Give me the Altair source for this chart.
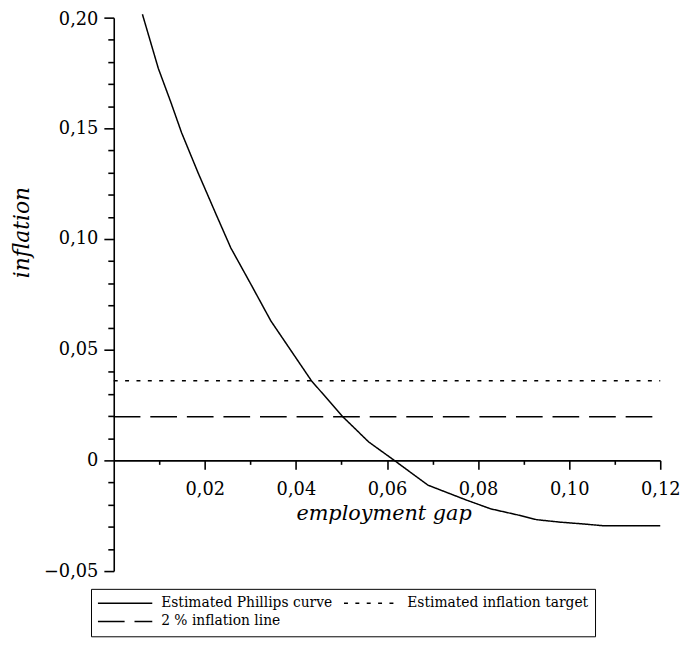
import altair as alt
import pandas as pd

# Estimated Phillips curve (employment gap, inflation)
curve_x = [0.0063, 0.0098, 0.0125, 0.0149, 0.0185, 0.0225, 0.0257, 0.0300, 0.0345,
           0.0434, 0.0503, 0.0560, 0.0616, 0.0690, 0.0774, 0.0828, 0.0886, 0.0929,
           0.0980, 0.1024, 0.1074, 0.1200]
curve_y = [0.2015, 0.177, 0.162, 0.148, 0.130, 0.111, 0.096, 0.080, 0.063,
           0.036, 0.0197, 0.0083, 0.0, -0.0112, -0.0179, -0.0219, -0.0246, -0.0268,
           -0.0279, -0.0286, -0.0295, -0.0295]

# Horizontal reference lines
hline_x = [0.0, 0.12]
target_level = 0.036
two_pct_level = 0.0197

series_names = ["Estimated Phillips curve", "Estimated inflation target", "2 % inflation line"]

x_tick_values = [0.01, 0.02, 0.03, 0.04, 0.05, 0.06, 0.07, 0.08, 0.09, 0.10, 0.11, 0.12]
y_tick_values = [-0.05, -0.04, -0.03, -0.02, -0.01, 0.0, 0.01, 0.02, 0.03, 0.04, 0.05,
                 0.06, 0.07, 0.08, 0.09, 0.10, 0.11, 0.12, 0.13, 0.14, 0.15, 0.16,
                 0.17, 0.18, 0.19, 0.20]

rows = []
for i, (x, y) in enumerate(zip(curve_x, curve_y)):
    rows.append({"series": series_names[0], "x": x, "y": y, "i": i})
for i, x in enumerate(hline_x):
    rows.append({"series": series_names[1], "x": x, "y": target_level, "i": i})
for i, x in enumerate(hline_x):
    rows.append({"series": series_names[2], "x": x, "y": two_pct_level, "i": i})
df = pd.DataFrame(rows)

FONT = "DejaVu Serif"
W, H = 553, 560
x0_offset = -round(H * 0.05 / 0.25)

label_fmt = "replace(format(datum.value, '.2f'), '.', ',')"

x_axis = alt.Axis(
    orient="bottom",
    offset=x0_offset,
    values=x_tick_values,
    labelExpr=f"round(datum.value*100) % 2 == 0 ? {label_fmt} : ''",
    tickSize={"condition": {"test": "round(datum.value*100) % 2 == 0", "value": 9}, "value": 4},
    labelPadding=21,
    labelFont=FONT, labelFontSize=18, labelColor="black",
    labelBaseline="middle",
    labelFlush=False, labelOverlap=False,
    domainColor="black", domainWidth=1.6,
    tickColor="black", tickWidth=1.6,
    grid=False,
    title="employment gap",
    titleFont=FONT, titleFontSize=21, titleFontStyle="italic", titleFontWeight="normal",
    titleColor="black",
    titleX=273, titleY=60, titleAlign="center", titleBaseline="alphabetic",
)

y_axis = alt.Axis(
    orient="left",
    values=y_tick_values,
    labelExpr=f"round(datum.value*100) % 5 == 0 ? (abs(datum.value) < 1e-9 ? '0' : {label_fmt}) : ''",
    tickSize={"condition": {"test": "round(datum.value*100) % 5 == 0", "value": 10}, "value": 6},
    labelOffset={"condition": {"test": "datum.value > 0.195", "value": 2}, "value": 0},
    labelPadding=6,
    labelFont=FONT, labelFontSize=18, labelColor="black",
    labelFlush=False, labelOverlap=False,
    domainColor="black", domainWidth=1.6,
    tickColor="black", tickWidth=1.6,
    grid=False,
    title="inflation",
    titleFont=FONT, titleFontSize=22, titleFontStyle="italic", titleFontWeight="normal",
    titleColor="black",
    titleX=-93, titleY=217, titleAngle=-90, titleAlign="center", titleBaseline="middle",
)

legend = alt.Legend(
    orient="none", legendX=-23, legendY=578,
    title=None, columns=2, direction="horizontal",
    symbolType="stroke", symbolSize=3025, symbolStrokeWidth=1.5,
    symbolStrokeColor="black", clipHeight=17,
    labelFont=FONT, labelFontSize=14, labelColor="black", labelLimit=400,
    labelOffset=8, columnPadding=10, rowPadding=1.5, padding=6,
    strokeColor="black", fillColor="white",
)

chart = alt.Chart(df).mark_line(color="black", strokeWidth=1.5, clip=False).encode(
    x=alt.X("x:Q", scale=alt.Scale(domain=[0, 0.12], nice=False, zero=False), axis=x_axis),
    y=alt.Y("y:Q", scale=alt.Scale(domain=[-0.05, 0.20], nice=False, zero=False), axis=y_axis),
    strokeDash=alt.StrokeDash(
        "series:N",
        scale=alt.Scale(domain=series_names, range=[[1, 0], [4, 7.5], [27, 10]]),
        legend=legend,
    ),
    detail="series:N",
    order="i:Q",
).properties(
    width=W, height=H,
    autosize=alt.AutoSizeParams(type="none"),
    padding={"left": 107, "top": 6, "right": 21, "bottom": 67},
    background="white",
).configure_view(stroke=None)

chart.save("out.html", embed_options={"renderer": "svg", "actions": False})
